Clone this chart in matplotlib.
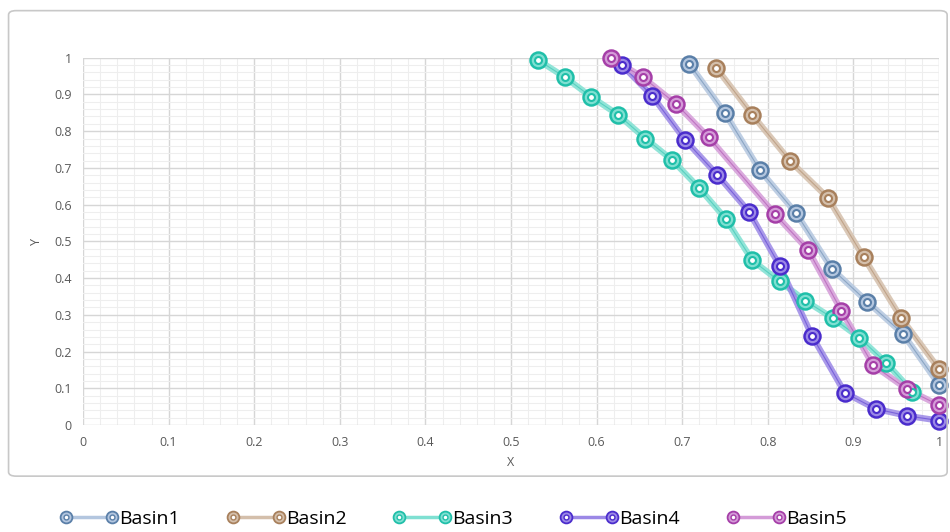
import matplotlib.pyplot as plt
import numpy as np
from matplotlib.patches import FancyBboxPatch
from matplotlib.legend_handler import HandlerBase
from matplotlib.lines import Line2D
from matplotlib.ticker import MultipleLocator

# data
basin1_x = [0.708, 0.750, 0.791, 0.833, 0.875, 0.916, 0.958, 1.0]
basin1_y = [0.984, 0.849, 0.693, 0.577, 0.425, 0.336, 0.248, 0.110]

basin2_x = [0.740, 0.782, 0.826, 0.870, 0.912, 0.956, 1.0]
basin2_y = [0.972, 0.844, 0.719, 0.619, 0.457, 0.291, 0.153]

basin3_x = [0.532, 0.563, 0.594, 0.625, 0.657, 0.688, 0.720, 0.751,
            0.782, 0.814, 0.844, 0.876, 0.907, 0.938, 0.969]
basin3_y = [0.993, 0.947, 0.893, 0.845, 0.780, 0.722, 0.645, 0.561,
            0.448, 0.391, 0.338, 0.291, 0.238, 0.170, 0.091]

basin4_x = [0.630, 0.665, 0.703, 0.741, 0.778, 0.814, 0.852, 0.890, 0.926, 0.963, 1.0]
basin4_y = [0.979, 0.896, 0.777, 0.681, 0.581, 0.433, 0.241, 0.088, 0.044, 0.025, 0.012]

basin5_x = [0.617, 0.654, 0.693, 0.731, 0.808, 0.847, 0.886, 0.923, 0.963, 1.0]
basin5_y = [0.999, 0.947, 0.874, 0.783, 0.575, 0.477, 0.311, 0.163, 0.097, 0.054]

names = ['Basin1', 'Basin2', 'Basin3', 'Basin4', 'Basin5']
xs = [basin1_x, basin2_x, basin3_x, basin4_x, basin5_x]
ys = [basin1_y, basin2_y, basin3_y, basin4_y, basin5_y]
dark = ['#5a7fa8', '#a8805c', '#20bfa9', '#4a2ccc', '#a53fa8']
light = ['#b3c6df', '#d4bfab', '#7fe0d2', '#9b88e6', '#d49bd8']


class DoubleRing(HandlerBase):
    # line with a double-ring marker at each end
    def __init__(self, d, l):
        super().__init__()
        self.d, self.l = d, l

    def create_artists(self, legend, orig, xd, yd, w, h, fontsize, trans):
        x = [-xd + 3, -xd + w - 3]
        y = [h / 2 - yd] * 2
        arts = [Line2D(x, y, color=self.l, lw=2.5),
                Line2D(x, y, ls='none', marker='o', ms=8.5, mfc=self.l, mec=self.d, mew=1.3),
                Line2D(x, y, ls='none', marker='o', ms=3.5, mfc='white', mec=self.d, mew=1.0)]
        for a in arts:
            a.set_transform(trans)
        return arts


plt.rcParams['font.family'] = ['Open Sans', 'DejaVu Sans']

fig = plt.figure(figsize=(9.5, 5.32), dpi=100)
box = FancyBboxPatch((0.009, 0.105), 0.988, 0.875, boxstyle='round,pad=0,rounding_size=0.008',
                     transform=fig.transFigure, fill=False, ec='#c8c8c8', lw=1.2)
fig.patches.append(box)

ax = fig.add_axes([0.0874, 0.2011, 0.901, 0.6904])
ax.set_xlim(0, 1)
ax.set_ylim(0, 1)
ax.xaxis.set_major_locator(MultipleLocator(0.1))
ax.yaxis.set_major_locator(MultipleLocator(0.1))
ax.xaxis.set_minor_locator(MultipleLocator(0.02))
ax.yaxis.set_minor_locator(MultipleLocator(0.02))
ax.grid(which='major', color='#d6d6d6', lw=1.0)
ax.grid(which='minor', color='#eeeeee', lw=0.8)
ax.set_axisbelow(True)
for s in ax.spines.values():
    s.set_visible(False)
ax.tick_params(which='both', length=0, colors='#595959', labelsize=9, pad=8)
ax.xaxis.set_major_formatter(plt.FuncFormatter(lambda v, p: f'{v:g}'))
ax.yaxis.set_major_formatter(plt.FuncFormatter(lambda v, p: f'{v:g}'))
ax.set_xlabel('X', color='#595959', fontsize=9, labelpad=5)
ax.set_ylabel('Y', color='#595959', fontsize=9, labelpad=8)

handles = []
hmap = {}
for x, y, d, l in zip(xs, ys, dark, light):
    ax.plot(x, y, color=l, lw=4.5, alpha=0.85, solid_capstyle='round', zorder=3, clip_on=False)
    ax.plot(x, y, color=d, lw=0.8, alpha=0.5, zorder=3, clip_on=False)
    ax.plot(x, y, ls='none', marker='o', ms=11.5, mfc=l, mec=d, mew=1.8, zorder=4, clip_on=False)
    ax.plot(x, y, ls='none', marker='o', ms=5, mfc='white', mec=d, mew=1.5, zorder=5, clip_on=False)
    h = Line2D([], [], color=d)
    handles.append(h)
    hmap[h] = DoubleRing(d, l)

fig.legend(handles, names, loc='center', bbox_to_anchor=(0.478, 0.025), ncol=5, frameon=False,
           fontsize=14, handlelength=2.8, columnspacing=2.5, handletextpad=0.15,
           handler_map=hmap)

fig.savefig('out.png', dpi=100)
